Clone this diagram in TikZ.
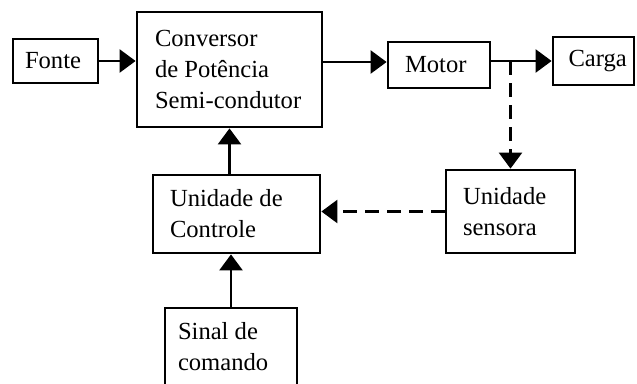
\documentclass[tikz,border=0pt]{standalone}
\usepackage{fontspec}
\setmainfont{Liberation Serif}
\usetikzlibrary{arrows.meta,calc}
\tikzset{
  blk/.style={draw, line width=2.8pt, rectangle, inner sep=0pt, align=flush left,
    font=\fontsize{24.6pt}{31pt}\selectfont},
  conn/.style={line width=2.6pt, -{Triangle[length=16pt,width=23pt]}},
  dconn/.style={conn, dash pattern=on 14pt off 8pt},
}
\begin{document}
\begin{tikzpicture}[x=1pt,y=-1pt]
\useasboundingbox[fill=white] (0,0) rectangle (637,383);
\node[blk, minimum width=85pt, minimum height=44pt, text width=61pt] (fonte) at (55.5,61) {Fonte};
\node[blk, minimum width=185pt, minimum height=115pt, text width=149pt] (conv) at (229.5,69.5) {Conversor\\de Potência\\Semi-condutor};
\node[blk, minimum width=102pt, minimum height=46pt, text width=68pt] (motor) at (439,65) {Motor};
\node[blk, minimum width=81pt, minimum height=48pt, text width=50pt] (carga) at (593.5,61) {Carga};
\node[blk, minimum width=167pt, minimum height=78pt, text width=133pt] (ctrl) at (236.5,214) {Unidade de\\Controle};
\node[blk, minimum width=129pt, minimum height=83pt, text width=95pt] (sens) at (510.5,211.5) {Unidade\\sensora};
\node[blk, minimum width=132pt, minimum height=78pt, text width=106pt] (sinal) at (231,347) {Sinal de\\comando};
\coordinate (br) at (sens.north |- carga.west);
\draw[conn] (fonte.east) -- (fonte.east -| conv.west);
\draw[conn] ([yshift=3pt]motor.west -| conv.east) -- ([yshift=3pt]motor.west);
\draw[conn] (motor.east |- carga.west) -- (carga.west);
\draw[dconn] (br) -- (sens.north);
\draw[dconn] (sens.west) -- (sens.west -| ctrl.east);
\draw[conn] (conv.south |- ctrl.north) -- (conv.south);
\draw[conn] (sinal.north) -- (sinal.north |- ctrl.south);
\end{tikzpicture}
\end{document}
